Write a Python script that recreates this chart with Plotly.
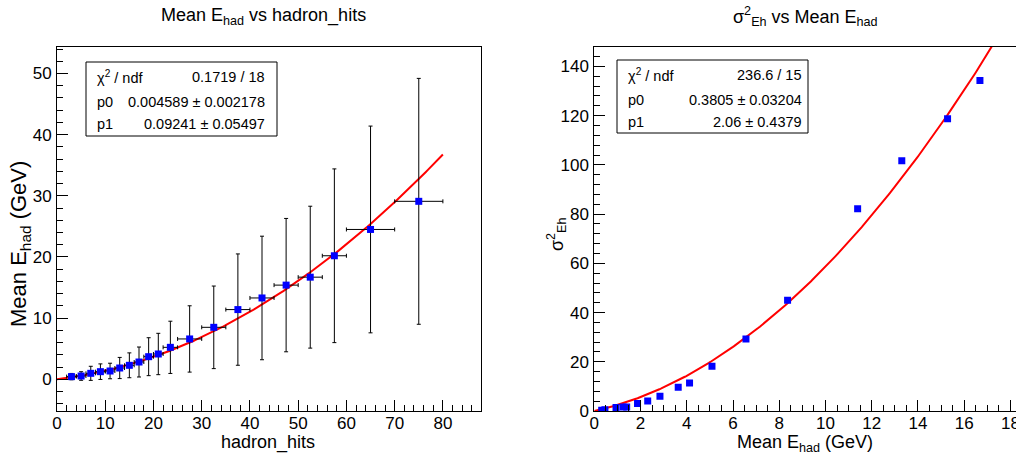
import numpy as np
import plotly.graph_objects as go

W, H = 1016, 456

# ---------------- data: left panel (Mean E_had vs hadron_hits) ----------------
hits = [3, 5, 7, 9, 11, 13, 15, 17, 19, 21, 23.5, 27.5, 32.5, 37.5, 42.5, 47.5, 52.5, 57.5, 65, 75]
hits_err = [1, 1, 1, 1, 1, 1, 1, 1, 1, 1, 1.5, 2.5, 2.5, 2.5, 2.5, 2.5, 2.5, 2.5, 5, 5]
mean_e = [0.44, 0.54, 0.98, 1.25, 1.36, 1.85, 2.29, 2.83, 3.70, 4.14, 5.23, 6.60, 8.50, 11.4, 13.3, 15.4, 16.7, 20.2, 24.5, 29.1]
mean_e_err = [0.52, 0.70, 1.15, 1.27, 1.27, 1.73, 2.03, 2.45, 3.10, 3.38, 4.27, 5.42, 6.75, 9.10, 10.1, 10.9, 11.6, 14.2, 16.9, 20.1]
fit_left = {"chi2": "0.1719 / 18", "p0": 0.004589, "p0e": 0.002178, "p1": 0.09241, "p1e": 0.05497}
left_fit_range = [0, 80]

# ---------------- data: right panel (sigma^2 vs Mean E_had) ----------------
mean_e_r = [0.32, 0.46, 0.94, 1.25, 1.40, 1.87, 2.31, 2.84, 3.63, 4.12, 5.09, 6.56, 8.36, 11.39, 13.30, 15.28, 16.68]
sigma2 = [0.27, 0.50, 1.40, 1.60, 1.60, 3.0, 4.1, 6.0, 9.6, 11.4, 18.2, 29.3, 45.0, 82.2, 101.7, 118.7, 134.3]
fit_right = {"chi2": "236.6 / 15", "p0": 0.3805, "p0e": 0.03204, "p1": 2.06, "p1e": 0.4379}
right_fit_range = [0, 18.3]

FONT = "Liberation Sans, Arial, sans-serif"

def px(x):
    return x / W

def py(y):
    return 1 - y / H

fig = go.Figure()

# left fit curve
xl = np.linspace(left_fit_range[0], left_fit_range[1], 300)
fig.add_trace(go.Scatter(x=xl, y=fit_left["p0"] * xl**2 + fit_left["p1"] * xl, mode="lines",
                         line=dict(color="#ff0000", width=2), xaxis="x", yaxis="y", showlegend=False))
fig.add_trace(go.Scatter(x=hits, y=mean_e, mode="markers",
                         marker=dict(symbol="square", size=7, color="#0000ff"),
                         error_x=dict(type="data", array=hits_err, color="black", thickness=1, width=2),
                         error_y=dict(type="data", array=mean_e_err, color="black", thickness=1, width=2),
                         xaxis="x", yaxis="y", showlegend=False))

# right fit curve
xr = np.linspace(right_fit_range[0], right_fit_range[1], 300)
fig.add_trace(go.Scatter(x=xr, y=fit_right["p0"] * xr**2 + fit_right["p1"] * xr, mode="lines",
                         line=dict(color="#ff0000", width=2), xaxis="x2", yaxis="y2", showlegend=False))
fig.add_trace(go.Scatter(x=mean_e_r, y=sigma2, mode="markers",
                         marker=dict(symbol="square", size=7, color="#0000ff"),
                         xaxis="x2", yaxis="y2", showlegend=False))

tickfont = dict(family=FONT, size=17, color="black")

def axis(domain, rng, dtick, minor, anchor):
    return dict(domain=domain, range=rng, dtick=dtick, tick0=0, ticks="inside", ticklen=11,
                tickwidth=1, tickcolor="black", showline=True, linecolor="black", linewidth=1,
                mirror=True, showgrid=False, zeroline=False, tickfont=tickfont, anchor=anchor,
                automargin=False,
                minor=dict(dtick=minor, tick0=0, ticks="inside", ticklen=6, tickcolor="black", tickwidth=1))

ydom = [py(411), py(47)]
fig.update_layout(
    width=W, height=H, margin=dict(l=0, r=0, t=0, b=0),
    paper_bgcolor="white", plot_bgcolor="white", template="none",
    xaxis=axis([px(57), px(481)], [0, 87.9], 10, 2, "y"),
    yaxis=axis(ydom, [-5.18, 54.33], 10, 2, "x"),
    xaxis2=axis([px(594.3), 1.0], [0, 18.24], 2, 0.5, "y2"),
    yaxis2=axis(ydom, [0, 147.9], 20, 4, "x2"),
)
fig.update_xaxes(ticklabelstandoff=-3, ticklabeloverflow="allow")
fig.update_yaxes(ticklabelstandoff=1)

ann = []
def text(x, y, s, size, xanchor="center", yanchor="middle", angle=0):
    ann.append(dict(x=px(x), y=py(y), xref="paper", yref="paper", text=s, showarrow=False,
                    xanchor=xanchor, yanchor=yanchor, textangle=angle,
                    font=dict(family=FONT, size=size, color="black")))

# titles
text(263, 17, "Mean E<sub>had</sub> vs hadron_hits", 18)
text(805, 17, "σ<sup>2</sup><sub>Eh</sub> vs Mean E<sub>had</sub>", 18)
# axis titles
text(268, 442, "hadron_hits", 18)
text(805, 443, "Mean E<sub>had</sub> (GeV)", 18)
text(20, 244, "Mean E<sub>had</sub> (GeV)", 22, angle=-90)
text(556, 234, "σ<sup>2</sup><sub>Eh</sub>", 18, angle=-90)

shapes = []
def statbox(x0, y0, x1, y1, lab_x, val_x, rows, f):
    shapes.append(dict(type="rect", xref="paper", yref="paper", x0=px(x0), x1=px(x1), y0=py(y0), y1=py(y1),
                       line=dict(color="black", width=1), fillcolor="white", layer="above"))
    labels = ["χ<sup>2</sup> / ndf", "p0", "p1"]
    vals = [f["chi2"], f"{f['p0']} ± {f['p0e']}", f"{f['p1']} ± {f['p1e']}"]
    for r, l, v in zip(rows, labels, vals):
        text(lab_x, r, l, 14.5, xanchor="left")
        text(val_x, r, v, 14.5, xanchor="right")

statbox(86, 62, 277, 136, 95, 267, [77, 102, 124], fit_left)
statbox(617, 60, 808, 133, 626, 804, [75, 100, 122], fit_right)

fig.update_layout(annotations=ann, shapes=shapes)
fig.write_html("out.html")
